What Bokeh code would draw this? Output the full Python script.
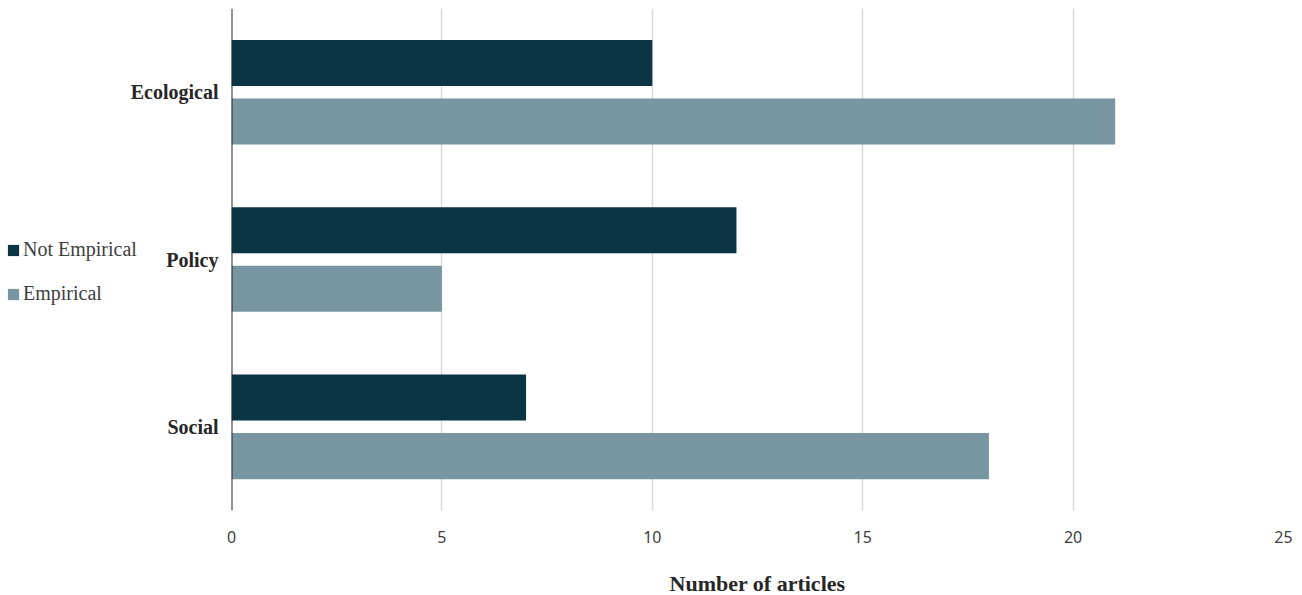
from bokeh.plotting import figure
from bokeh.layouts import row
from bokeh.models import FixedTicker, Legend, LegendItem, ColumnDataSource, Span
from bokeh.core.properties import value
from bokeh.embed import file_html
from bokeh.resources import INLINE

categories = ["Ecological", "Policy", "Social"]
not_empirical = [10, 12, 7]
empirical = [21, 5, 18]
x_ticks = [0, 5, 10, 15, 20, 25]

dark = "#0b3545"
light = "#7896a2"

n = len(categories)
centers = [n - i - 0.5 for i in range(n)]

# main plot
p = figure(frame_width=1052, frame_height=502, x_range=(0, 25), y_range=(0, n),
           y_axis_type=None, output_backend="svg", toolbar_location=None,
           min_border_left=10, min_border_right=19, min_border_top=8, min_border_bottom=80)
p.outline_line_color = None

src_ne = ColumnDataSource(dict(y=[c + 0.175 for c in centers], v=not_empirical))
src_e = ColumnDataSource(dict(y=[c - 0.175 for c in centers], v=empirical))
p.hbar(y="y", right="v", left=0, height=0.275, source=src_ne, color=dark, line_color=None)
p.hbar(y="y", right="v", left=0, height=0.275, source=src_e, color=light, line_color=None)

p.ygrid.grid_line_color = None
p.xgrid.grid_line_color = "#d9d9d9"
p.xgrid.grid_line_width = 1.5
p.xgrid.ticker = FixedTicker(ticks=x_ticks)
p.add_layout(Span(location=0, dimension="height", line_color="#262626", line_width=2))

p.xaxis.ticker = FixedTicker(ticks=x_ticks)
p.xaxis.axis_line_color = None
p.xaxis.major_tick_line_color = None
p.xaxis.minor_tick_line_color = None
p.xaxis.major_tick_out = 0
p.xaxis.major_tick_in = 0
p.xaxis.major_label_standoff = 20
p.xaxis.major_label_text_font = "Noto Sans"
p.xaxis.major_label_text_font_size = "16px"
p.xaxis.major_label_text_color = "#404040"
p.xaxis.axis_label = "Number of articles"
p.xaxis.axis_label_text_font = "Liberation Serif"
p.xaxis.axis_label_text_font_style = "bold"
p.xaxis.axis_label_text_font_size = "22px"
p.xaxis.axis_label_text_color = "#262626"
p.xaxis.axis_label_standoff = 25

# left panel: category labels and legend
pl = figure(frame_width=221, frame_height=502, x_range=(0, 221), y_range=p.y_range,
            x_axis_type=None, y_axis_type=None, output_backend="svg", toolbar_location=None,
            min_border_left=0, min_border_right=0, min_border_top=8, min_border_bottom=80)
pl.outline_line_color = None
pl.grid.visible = False

pl.text(x=[218] * n, y=centers, text=categories, text_align="right", text_baseline="middle",
        text_font=value("Liberation Serif"), text_font_style="bold", text_font_size="20px",
        text_color="#262626")

# zero-length bars that only serve as legend glyph sources
dummy = ColumnDataSource(dict(y=centers, v=[0] * n))
g_ne = pl.hbar(y="y", right="v", left="v", height=0, source=dummy, color=dark, line_color=None)
g_e = pl.hbar(y="y", right="v", left="v", height=0, source=dummy, color=light, line_color=None)

legend = Legend(items=[LegendItem(label="Not Empirical", renderers=[g_ne], index=0),
                       LegendItem(label="Empirical", renderers=[g_e], index=0)],
                location=(6, 205), orientation="vertical",
                label_text_font="Liberation Serif", label_text_font_size="20px",
                label_text_color="#404040", glyph_width=14, glyph_height=14,
                spacing=21, padding=0, margin=0, border_line_color=None,
                background_fill_alpha=0, label_standoff=3)
pl.add_layout(legend, "center")

layout = row(pl, p, spacing=0)
open("out.html", "w").write(file_html(layout, INLINE))
